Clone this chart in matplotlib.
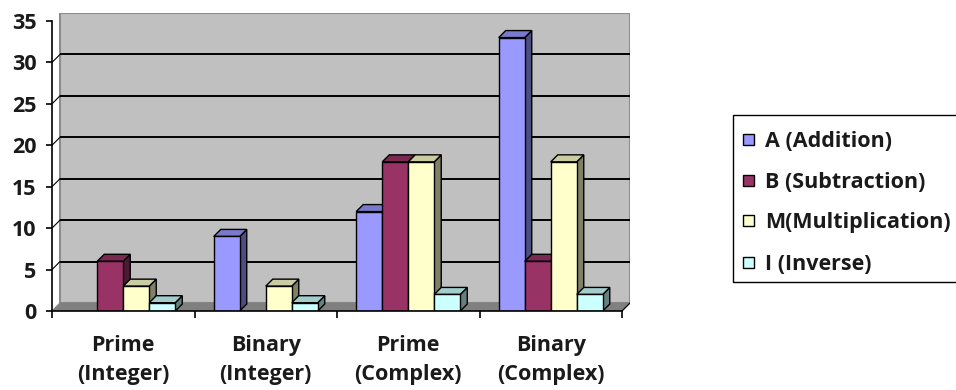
import matplotlib
matplotlib.use("Agg")
import matplotlib.pyplot as plt
from matplotlib.patches import Polygon, Rectangle
import matplotlib.colors as mcolors

categories = ["Prime\n(Integer)", "Binary\n(Integer)", "Prime\n(Complex)", "Binary\n(Complex)"]
series_names = ["A (Addition)", "B (Subtraction)", "M(Multiplication)", "I (Inverse)"]
A_vals = [0, 9, 12, 33]
B_vals = [6, 0, 18, 6]
M_vals = [3, 3, 18, 18]
I_vals = [1, 1, 2, 2]
yticks = [0, 5, 10, 15, 20, 25, 30, 35]

series_vals = [A_vals, B_vals, M_vals, I_vals]
colors = ["#9999FF", "#993366", "#FFFFCC", "#CCFFFF"]

W, H = 956, 390
fig = plt.figure(figsize=(W / 100, H / 100), dpi=100)
FONT = "Open Sans"
FS = 15.5
TXT = "#1a1a1a"

# pixel geometry
x_left, x_front_right = 52, 622
y_zero, y_top_tick = 311, 21
dpx = 8
cat_px = (x_front_right - x_left) / 4
unit_px = (y_zero - y_top_tick) / 35.0
dxd = dpx / cat_px
dyd = dpx / unit_px
bdx = 7 / cat_px
bdy = 7 / unit_px

ax_w = (4 + dxd) * cat_px
ax_h = (35 + dyd) * unit_px
ax = fig.add_axes([x_left / W, (H - y_zero) / H, ax_w / W, ax_h / H])
ax.set_xlim(0, 4 + dxd)
ax.set_ylim(0, 35 + dyd)
ax.patch.set_alpha(0)

# back wall
ax.add_patch(Rectangle((dxd, dyd), 4, 35, fc="#C0C0C0", ec="#8c8c8c", lw=1.5, zorder=0.5))
# floor
ax.add_patch(Polygon([(0, 0), (4, 0), (4 + dxd, dyd), (dxd, dyd)], closed=True,
                     fc="#808080", ec="#808080", lw=0.8, zorder=0.6))
# gridlines
for yv in yticks[1:-1]:
    ax.plot([dxd, 4 + dxd], [yv + dyd, yv + dyd], color="black", lw=1.4, zorder=0.7,
            solid_capstyle="butt")
    ax.plot([0, dxd], [yv, yv + dyd], color="black", lw=0.8, zorder=0.7)
ax.plot([4, 4 + dxd], [0, dyd], color="black", lw=0.8, zorder=0.7)


def shade(c, f):
    r, g, b = mcolors.to_rgb(c)
    return (r * f, g * f, b * f)


w = 0.73 / 4
for i in range(len(categories)):
    for j, vals in enumerate(series_vals):
        h = vals[i]
        if h <= 0:
            continue
        x0 = i + 0.5 - 2 * w + j * w
        z = 2 + i * 10 + j * 2
        ax.bar(x0, h, width=w, align="edge", color=colors[j], edgecolor="black",
               linewidth=1.0, zorder=z + 1)
        side = Polygon([(x0 + w, 0), (x0 + w + bdx, bdy), (x0 + w + bdx, h + bdy), (x0 + w, h)],
                       closed=True, fc=shade(colors[j], 0.5), ec="black", lw=1.0, zorder=z)
        top = Polygon([(x0, h), (x0 + w, h), (x0 + w + bdx, h + bdy), (x0 + bdx, h + bdy)],
                      closed=True, fc=shade(colors[j], 0.8), ec="black", lw=1.0, zorder=z)
        ax.add_patch(side)
        ax.add_patch(top)

for s in ["top", "right"]:
    ax.spines[s].set_visible(False)
ax.spines["left"].set_bounds(0, 35)
ax.spines["bottom"].set_bounds(0, 4)
for s in ["left", "bottom"]:
    ax.spines[s].set_linewidth(1.2)
    ax.spines[s].set_zorder(100)

ax.set_yticks(yticks)
ax.set_yticklabels([str(v) for v in yticks], fontfamily=FONT, fontweight="bold",
                   fontsize=FS, color=TXT)
ax.tick_params(axis="y", direction="out", length=4, width=1.2, pad=7)
ax.set_xticks([0, 1, 2, 3, 4])
ax.set_xticklabels([])
ax.tick_params(axis="x", which="major", direction="out", length=5, width=1.2)
ax.set_xticks([0.5, 1.5, 2.5, 3.5], minor=True)
ax.set_xticklabels(categories, minor=True, fontfamily=FONT, fontweight="bold",
                   fontsize=FS, linespacing=1.55, color=TXT)
ax.tick_params(axis="x", which="minor", length=0, pad=17)

# legend (box extends beyond right edge)
lx0, ly0, ly1 = 733, 115, 282
fig.patches.append(Rectangle((lx0 / W, 1 - ly1 / H), (W + 20 - lx0) / W, (ly1 - ly0) / H,
                             transform=fig.transFigure, fc="white", ec="black", lw=1.0,
                             figure=fig))
entry_y = [139, 180, 220, 262]
for name, c, yy in zip(series_names, colors, entry_y):
    fig.patches.append(Rectangle((743 / W, 1 - (yy + 5.5) / H), 11 / W, 11 / H,
                                 transform=fig.transFigure, fc=c, ec="black", lw=1.0,
                                 figure=fig))
    fig.text(765 / W, 1 - yy / H, name, fontfamily=FONT, fontweight="bold", fontsize=FS,
             va="center_baseline", ha="left", color=TXT)

fig.savefig("out.png", dpi=100)
